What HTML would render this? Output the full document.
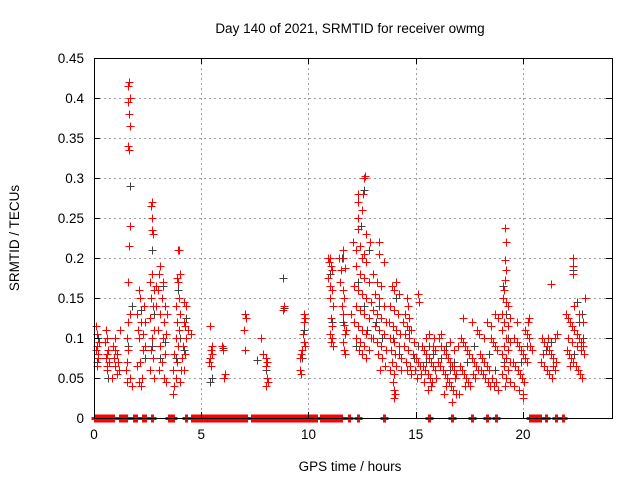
<!DOCTYPE html>
<html><head><meta charset="utf-8"><style>
body{margin:0;background:#fff;}
svg{display:block;font-family:"Liberation Sans",sans-serif;}
</style></head><body>
<svg id="chart" width="640" height="480" viewBox="0 0 640 480" xmlns="http://www.w3.org/2000/svg">
<rect width="640" height="480" fill="#fff"/>
<text x="350" y="33" font-size="13.5" text-anchor="middle">Day 140 of 2021, SRMTID for receiver owmg</text>
<text transform="translate(19,238) rotate(-90)" font-size="13.5" text-anchor="middle">SRMTID / TECUs</text>
<text x="350" y="471" font-size="13.5" text-anchor="middle">GPS time / hours</text>
<g id="grid"></g><g id="dark" shape-rendering="crispEdges"></g><g id="red" shape-rendering="crispEdges"></g><g id="zero" shape-rendering="crispEdges"></g><g id="axes" shape-rendering="crispEdges"></g>
</svg>
<script>
const yTicks=[0,0.05,0.1,0.15,0.2,0.25,0.3,0.35,0.4,0.45];
const yTickLabels=["0","0.05","0.1","0.15","0.2","0.25","0.3","0.35","0.4","0.45"];
const xTicks=[0,5,10,15,20];
const xTickLabels=["0","5","10","15","20"];
const redTimes=[0.1,0.12,0.15,0.1,0.2,0.18,0.22,0.15,0.55,0.6,0.5,0.65,0.6,0.55,0.7,0.62,0.6,0.9,1.0,1.05,0.95,1.1,1.0,1.15,1.05,1.0,1.2,0.85,
1.65,1.6,1.7,1.6,1.65,1.7,1.6,1.65,1.7,1.65,1.6,1.55,1.6,1.55,1.5,1.55,1.7,1.75,1.6,1.7,
2.1,2.15,2.0,2.2,2.05,2.1,2.3,2.15,2.0,2.25,2.1,2.2,2.35,2.4,2.4,2.3,
2.7,2.65,2.7,2.7,2.75,2.7,2.6,2.8,2.65,2.75,2.6,2.8,2.7,2.65,2.75,2.6,2.8,2.9,2.9,
3.1,3.05,3.2,3.0,3.15,3.3,3.1,3.25,3.0,3.2,3.1,3.3,3.15,3.05,3.25,3.35,3.4,3.35,
3.9,3.95,3.85,3.9,4.0,3.95,3.8,4.0,3.85,3.95,3.8,3.9,3.75,3.85,3.7,3.8,3.75,3.7,4.05,4.0,
4.2,4.3,4.2,4.25,4.3,4.15,4.25,4.4,4.5,4.2,4.1,
5.4,5.5,5.45,5.5,5.4,5.35,5.45,5.95,6.0,6.1,6.05,7.05,7.1,7.0,7.05,
7.8,7.9,8.0,8.05,8.0,8.05,8.0,8.1,8.85,8.8,
9.8,9.85,9.8,9.75,9.8,9.7,9.65,9.6,9.6,9.65,9.85,
10.9,10.95,11.0,11.05,11.1,10.9,11.0,11.1,11.0,11.15,11.05,11.1,11.0,11.1,11.05,11.15,
11.4,11.6,11.6,11.7,11.5,11.45,11.6,11.65,11.55,11.6,11.65,11.7,11.6,11.65,11.7,11.75,
12.63,12.6,12.3,12.55,12.3,12.5,12.3,12.3,12.7,12.87,12.07,12.5,12.7,12.2,12.4,12.6,12.2,12.4,12.6,12.8,12.1,12.3,12.5,12.7,12.9,12.2,12.4,12.6,12.8,12.1,12.3,12.5,12.7,12.9,12.4,12.6,12.8,12.5,12.7,12.2,12.0,12.35,
13.3,13.3,13.5,13.0,13.2,13.4,13.1,13.3,13.5,13.0,13.2,13.4,13.6,13.1,13.3,13.5,13.0,13.2,13.4,13.6,13.25,13.45,13.55,13.35,
13.9,14.0,14.1,14.2,13.8,14.0,14.15,13.75,13.95,14.1,14.25,13.8,14.0,14.2,13.85,14.05,14.3,13.9,14.1,13.8,14.0,13.95,14.0,14.05,14.0,14.3,
14.6,14.65,14.5,14.7,14.4,14.6,14.8,14.5,14.7,14.9,14.45,14.65,14.85,15.0,14.55,14.75,14.95,15.1,15.2,14.8,15.05,14.6,15.1,15.15,
15.3,15.4,15.5,15.6,15.7,15.8,15.9,15.35,15.45,15.55,15.65,15.75,15.25,15.5,15.6,15.8,15.9,15.4,15.7,15.95,15.55,15.85,
16.1,16.2,16.3,16.4,16.5,16.6,16.7,16.8,16.9,16.05,16.15,16.25,16.35,16.45,16.55,16.65,16.75,16.85,16.95,16.2,16.6,16.8,16.4,16.9,16.7,16.3,
17.1,17.2,17.3,17.4,17.5,17.6,17.7,17.8,17.9,17.05,17.15,17.25,17.35,17.45,17.55,17.65,17.75,17.85,17.95,17.3,17.6,17.0,17.2,
18.0,18.1,18.2,18.3,18.4,18.5,18.6,18.7,18.8,18.05,18.15,18.25,18.35,18.45,18.55,18.65,18.75,18.85,18.3,18.5,18.7,18.85,18.2,
19.16,19.2,19.15,19.2,19.15,19.1,19.05,19.2,19.0,19.1,19.3,19.0,19.2,19.4,19.1,19.3,19.0,19.2,19.4,19.1,19.3,19.0,19.2,19.4,19.15,19.3,19.4,
19.6,19.7,19.8,19.9,20.0,20.1,20.2,19.55,19.65,19.75,19.85,19.95,20.05,19.6,19.8,20.0,20.1,20.2,20.3,20.35,20.4,20.25,20.3,19.7,20.0,
20.9,21.0,21.1,21.2,21.3,21.4,20.85,21.0,21.1,21.2,21.35,21.5,21.3,20.95,21.15,21.4,21.5,21.6,21.55,
22.33,22.33,22.35,22.9,22.0,22.1,22.2,22.3,22.4,22.5,22.6,22.7,22.8,22.05,22.15,22.25,22.35,22.45,22.55,22.65,22.75,22.1,22.3,22.5,22.7,22.85,22.6,22.4,22.8,22.2];
const redValues=[0.115,0.105,0.09,0.085,0.075,0.08,0.095,0.065,0.11,0.1,0.095,0.085,0.08,0.075,0.07,0.065,0.06,0.09,0.085,0.08,0.075,0.07,0.065,0.06,0.055,0.1,0.11,0.05,
0.42,0.415,0.40,0.395,0.38,0.365,0.34,0.335,0.24,0.215,0.17,0.1,0.085,0.07,0.06,0.045,0.05,0.04,0.12,0.13,
0.16,0.15,0.13,0.12,0.11,0.1,0.085,0.07,0.065,0.05,0.045,0.04,0.14,0.12,0.09,0.105,
0.27,0.265,0.25,0.235,0.23,0.18,0.17,0.16,0.15,0.14,0.125,0.11,0.1,0.085,0.075,0.06,0.05,0.14,0.165,
0.19,0.18,0.17,0.16,0.15,0.14,0.13,0.12,0.11,0.1,0.09,0.08,0.07,0.06,0.05,0.045,0.13,0.105,
0.21,0.21,0.175,0.17,0.18,0.15,0.14,0.13,0.12,0.11,0.1,0.09,0.08,0.07,0.06,0.05,0.04,0.03,0.06,0.045,
0.145,0.14,0.12,0.115,0.1,0.09,0.08,0.11,0.105,0.06,0.075,
0.115,0.09,0.085,0.08,0.075,0.07,0.065,0.09,0.085,0.055,0.05,0.13,0.125,0.11,0.085,
0.1,0.08,0.075,0.07,0.065,0.05,0.04,0.045,0.14,0.135,
0.13,0.125,0.12,0.105,0.095,0.085,0.08,0.075,0.06,0.055,0.09,
0.2,0.195,0.2,0.19,0.185,0.175,0.165,0.16,0.15,0.14,0.125,0.115,0.105,0.1,0.095,0.09,
0.2,0.21,0.2,0.187,0.185,0.17,0.16,0.15,0.14,0.13,0.116,0.105,0.095,0.085,0.08,0.11,
0.302,0.3,0.28,0.28,0.27,0.26,0.25,0.236,0.23,0.22,0.22,0.2,0.195,0.21,0.215,0.205,0.19,0.18,0.175,0.17,0.165,0.16,0.155,0.15,0.145,0.14,0.135,0.13,0.125,0.12,0.115,0.11,0.105,0.1,0.095,0.09,0.085,0.08,0.075,0.1,0.13,0.085,
0.22,0.205,0.195,0.18,0.17,0.165,0.155,0.15,0.14,0.135,0.13,0.125,0.12,0.115,0.11,0.105,0.1,0.095,0.09,0.085,0.08,0.075,0.065,0.06,
0.165,0.16,0.17,0.155,0.14,0.135,0.13,0.12,0.115,0.11,0.105,0.1,0.095,0.09,0.085,0.08,0.075,0.07,0.065,0.06,0.055,0.045,0.035,0.03,0.025,0.06,
0.15,0.14,0.13,0.125,0.12,0.115,0.11,0.105,0.1,0.095,0.09,0.085,0.08,0.075,0.07,0.065,0.06,0.07,0.065,0.055,0.05,0.06,0.155,0.145,
0.09,0.085,0.08,0.075,0.07,0.065,0.06,0.065,0.06,0.055,0.05,0.045,0.055,0.1,0.105,0.09,0.085,0.045,0.04,0.05,0.035,0.1,
0.1,0.09,0.085,0.08,0.075,0.07,0.065,0.06,0.055,0.07,0.065,0.06,0.055,0.05,0.045,0.04,0.035,0.05,0.09,0.105,0.095,0.085,0.04,0.03,0.02,0.03,
0.1,0.095,0.09,0.085,0.08,0.075,0.07,0.065,0.06,0.065,0.06,0.055,0.05,0.045,0.04,0.055,0.05,0.11,0.105,0.04,0.12,0.03,0.125,
0.08,0.075,0.07,0.065,0.06,0.1,0.095,0.09,0.085,0.06,0.055,0.05,0.045,0.04,0.05,0.04,0.045,0.035,0.12,0.115,0.13,0.125,0.1,
0.237,0.22,0.197,0.185,0.173,0.16,0.15,0.145,0.13,0.12,0.115,0.11,0.1,0.095,0.09,0.085,0.08,0.075,0.07,0.065,0.06,0.055,0.05,0.045,0.04,0.14,0.125,
0.1,0.095,0.09,0.085,0.08,0.075,0.07,0.07,0.065,0.06,0.055,0.05,0.045,0.04,0.035,0.03,0.11,0.105,0.1,0.09,0.085,0.12,0.125,0.12,0.025,
0.1,0.095,0.09,0.085,0.08,0.075,0.07,0.065,0.06,0.055,0.05,0.06,0.168,0.08,0.1,0.065,0.1,0.105,0.07,
0.2,0.19,0.18,0.15,0.13,0.125,0.12,0.115,0.11,0.105,0.1,0.095,0.09,0.085,0.08,0.075,0.07,0.065,0.06,0.055,0.05,0.1,0.095,0.09,0.085,0.08,0.13,0.14,0.12,0.065];
const darkTimes=[0.12,0.2,0.65,1.68,1.75,1.6,2.2,2.4,2.7,2.8,2.7,3.2,3.1,3.3,3.9,4.0,3.8,4.3,4.2,5.4,5.5,6.0,7.6,8.0,8.8,8.85,9.8,9.7,11.0,11.1,11.55,11.6,12.6,12.45,12.8,12.3,12.6,12.75,12.2,13.3,13.45,13.15,14.1,13.95,14.2,14.7,14.9,15.1,15.5,15.8,15.6,16.4,16.6,16.2,16.8,17.4,17.7,18.4,18.7,19.05,19.2,19.3,19.1,19.9,20.2,21.05,21.3,22.33,22.5,22.6,22.75,22.4,22.8];
const darkValues=[0.07,0.1,0.05,0.29,0.14,0.09,0.135,0.075,0.21,0.13,0.09,0.165,0.075,0.095,0.16,0.1,0.075,0.125,0.085,0.045,0.05,0.088,0.072,0.06,0.175,0.138,0.11,0.075,0.18,0.12,0.2,0.12,0.285,0.24,0.21,0.17,0.14,0.11,0.09,0.14,0.1,0.12,0.15,0.1,0.08,0.11,0.075,0.09,0.07,0.08,0.09,0.09,0.06,0.075,0.07,0.07,0.09,0.08,0.06,0.165,0.13,0.1,0.07,0.07,0.09,0.085,0.095,0.185,0.145,0.12,0.13,0.08,0.1];
const zeroTimes=[0.05,0.15,0.25,0.35,0.45,0.55,0.7,0.8,0.9,1.2,1.3,1.4,1.5,1.85,1.95,2.3,2.4,2.7,3.5,3.6,3.7,4.3,4.55,4.65,4.75,4.85,4.95,5.05,5.15,5.25,5.35,5.45,5.55,5.65,5.75,5.85,5.95,6.05,6.2,6.3,6.4,6.5,6.6,6.7,6.8,6.9,7.0,7.1,7.35,7.45,7.55,7.65,7.75,7.85,7.95,8.05,8.15,8.25,8.35,8.45,8.55,8.65,8.8,8.9,9.0,9.1,9.2,9.3,9.4,9.5,9.6,9.7,9.8,9.95,10.05,10.15,10.25,10.35,10.6,10.7,10.8,10.9,11.0,11.1,11.2,11.3,11.4,11.5,11.9,12.3,13.5,15.6,16.7,17.6,18.3,18.75,20.35,20.45,20.55,20.65,20.8,21.07,21.56,21.86];
const NS="http://www.w3.org/2000/svg";
const L=94,R=612,T=58,B=418,XMAX=24.15,YMAX=0.45;
function xs(t){return L+(R-L)*t/XMAX;}
function ys(v){return B-(B-T)*v/YMAX;}
function mk(tag,attrs,parent){const e=document.createElementNS(NS,tag);for(const k in attrs)e.setAttribute(k,attrs[k]);parent.appendChild(e);return e;}
const grid=document.getElementById('grid'),axes=document.getElementById('axes');
yTicks.forEach((v,i)=>{
  const y=Math.round(ys(v))+0.5;
  if(v>0&&v<YMAX){const g=mk('line',{x1:L,x2:R,y1:y,y2:y,stroke:'#a0a0a0','stroke-dasharray':'2,3','stroke-width':1},grid);
  
  }
  mk('line',{x1:L,x2:L+6,y1:y,y2:y,stroke:'#000'},axes);
  mk('line',{x1:R,x2:R-6,y1:y,y2:y,stroke:'#000'},axes);
  const t=mk('text',{x:L-10,y:ys(v)+5,'font-size':13.5,'text-anchor':'end'},axes);
  t.textContent=yTickLabels[i];
  
  
});
xTicks.forEach((v,i)=>{
  const x=Math.round(xs(v))+0.5;
  if(v>0){const g=mk('line',{x1:x,x2:x,y1:T,y2:B,stroke:'#a0a0a0','stroke-dasharray':'2,3','stroke-width':1},grid);
  
  }
  mk('line',{x1:x,x2:x,y1:B,y2:B-6,stroke:'#000'},axes);
  mk('line',{x1:x,x2:x,y1:T,y2:T+6,stroke:'#000'},axes);
  const t=mk('text',{x:xs(v),y:B+21,'font-size':13.5,'text-anchor':'middle'},axes);
  t.textContent=xTickLabels[i];
  
  
});
const frame=mk('rect',{x:L+0.5,y:T+0.5,width:R-L,height:B-T,fill:'none',stroke:'#000','stroke-width':1},axes);


function plus(g,t,v,color){
  const x=Math.round(xs(t))+0.5,y=Math.round(ys(v))+0.5;
  return mk('path',{d:`M${x-4},${y}H${x+4}M${x},${y-4}V${y+4}`,stroke:color,'stroke-width':1,fill:'none'},g);
}
const dg=document.getElementById('dark');
darkTimes.forEach((t,i)=>{const p=plus(dg,t,darkValues[i],'#404040');
  
  });
const rg=document.getElementById('red');
redTimes.forEach((t,i)=>{const p=plus(rg,t,redValues[i],'#ff0000');
  
  });
const zg=document.getElementById('zero');
zeroTimes.forEach(t=>{const p=plus(zg,t,0,'#ff0000');
  p.setAttribute('stroke-width','3');
  
  });
</script>
</body></html>
